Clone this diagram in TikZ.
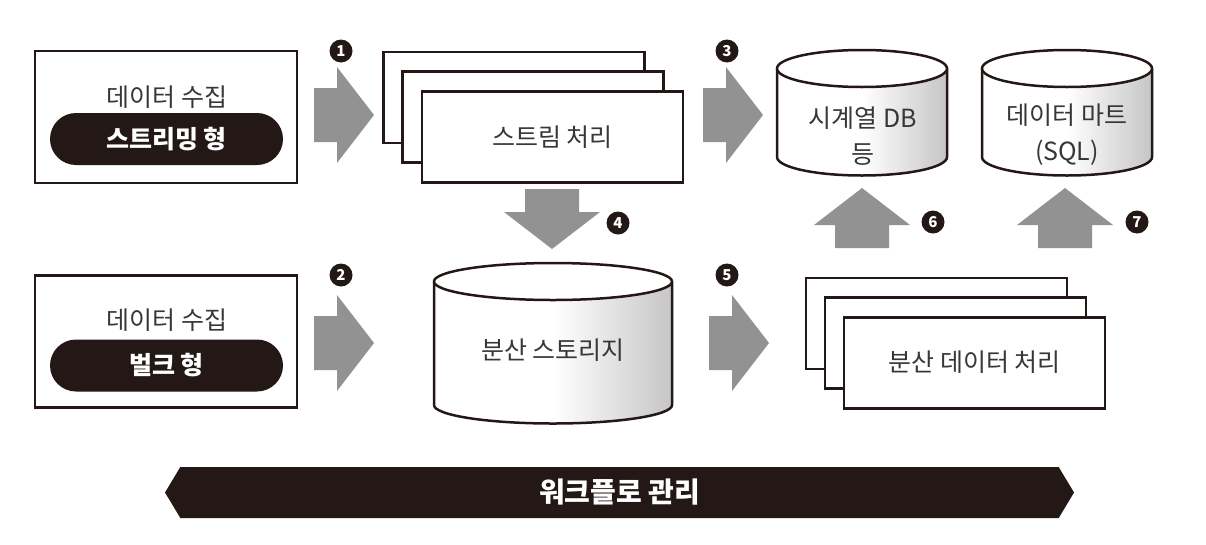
\documentclass[tikz,border=0pt]{standalone}
\usepackage{fontspec}
\setmainfont{Noto Sans CJK KR}
\usetikzlibrary{
	positioning,
	shapes.symbols
}
\definecolor{ink}{RGB}{35,24,21}
\definecolor{txt}{RGB}{55,55,55}
\definecolor{flow}{RGB}{146,146,146}

% cylinder: centre x, top y, bottom y, x radius, y radius
\newcommand{\dbcyl}[5]{%
	\fill[left color=white, right color=gray!45, middle color=white] (#1-#4,#2) -- (#1-#4,#3) arc (180:0:#4 and #5) -- (#1+#4,#2) -- cycle;
	\draw[ink, line width=2.5pt] (#1-#4,#2) -- (#1-#4,#3) arc (180:0:#4 and #5) -- (#1+#4,#2);
	\draw[ink, line width=2.5pt, fill=white] (#1,#2) ellipse (#4 and #5);
}

\tikzset{
	pbox/.style={draw=ink, line width=2.5pt, fill=white, text=txt, font=\fontsize{25}{30}\selectfont, minimum width=261pt, minimum height=91pt, inner sep=0pt},
	srcbox/.style={draw=ink, line width=2.5pt, fill=white, minimum width=262pt, minimum height=132pt, inner sep=0pt},
	pill/.style={rounded corners=26pt, fill=ink, text=white, font=\fontsize{25}{30}\selectfont\bfseries, minimum width=233pt, minimum height=52pt, inner sep=0pt},
	lbl/.style={text=txt, font=\fontsize{25}{36}\selectfont, align=center, inner sep=0pt},
	num/.style={circle, fill=ink, text=white, inner sep=0pt, minimum size=23pt, font=\fontsize{15}{15}\selectfont\bfseries},
	bigarrow/.pic={\fill[flow] (0,-27) -- (23,-27) -- (23,-48) -- (60,0) -- (23,48) -- (23,27) -- (0,27) -- cycle;}
}

\begin{document}
\begin{tikzpicture}[x=1pt, y=-1pt]
	\useasboundingbox (0,0) rectangle (1206,544);

	% collection
	\node[srcbox] (col1) at (166,117) {};
	\node[lbl] (col1t) at (167,97) {데이터 수집};
	\node[pill] (stream) at (166.5,139) {스트리밍 형};
	\node[srcbox] (col2) at (166,341.5) {};
	\node[lbl] (col2t) at (167,320) {데이터 수집};
	\node[pill] (bulk) at (166.5,365.5) {벌크 형};

	% stream processing
	\node[pbox] (sp3) at (514,97.5) {};
	\node[pbox] (sp2) at (533,117) {};
	\node[pbox] (sp) at (552.5,137) {\raisebox{2pt}{스트림 처리}};

	% distributed processing
	\node[pbox] (dp3) at (936.5,323.5) {};
	\node[pbox] (dp2) at (955.5,343) {};
	\node[pbox] (dp) at (974.5,363) {\raisebox{3pt}{분산 데이터 처리}};

	% storages
	\dbcyl{553}{281.5}{405}{119}{18.5}
	\node[lbl] (dfs) at (553,350) {분산 스토리지};
	\dbcyl{862}{68.5}{157}{85}{18.5}
	\node[lbl] (tsdb) at (863,136) {시계열 DB\\등};
	\dbcyl{1067}{68.5}{157}{85}{18.5}
	\node[lbl] (mart) at (1067,135) {데이터 마트\\(SQL)};

	% flows
	\pic at (314,115) {bigarrow};
	\pic at (314,343) {bigarrow};
	\pic at (703,115) {bigarrow};
	\pic at (709,343) {bigarrow};
	\pic[rotate=-90] at (552,189) {bigarrow};
	\pic[rotate=90] at (862,248) {bigarrow};
	\pic[rotate=90] at (1065,248) {bigarrow};

	\node[num] (n1) at (341,51) {1};
	\node[num] (n2) at (341,275) {2};
	\node[num] (n3) at (727,51) {3};
	\node[num] (n4) at (618,223) {4};
	\node[num] (n5) at (727,275) {5};
	\node[num] (n6) at (933,222) {6};
	\node[num] (n7) at (1137,222) {7};

	% workflow
	\node[signal, signal to=west and east, signal pointer angle=118, fill=ink, text=white, minimum width=909pt, minimum height=51pt, inner sep=0pt, font=\fontsize{28}{30}\selectfont\bfseries] (wf) at (619.5,492.5) {워크플로 관리};
\end{tikzpicture}
\end{document}
